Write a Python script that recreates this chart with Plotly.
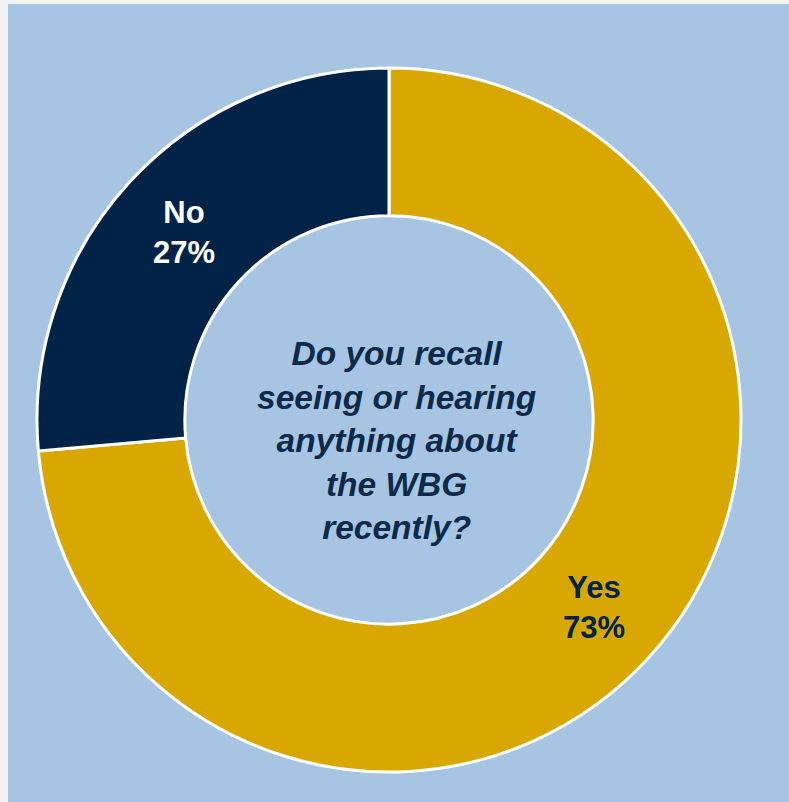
import plotly.graph_objects as go

labels = ["Yes", "No"]
values = [73.6, 26.4]
pct_labels = ["73%", "27%"]
slice_colors = ["#D9A800", "#002347"]
label_colors = ["#002347", "#FFFFFF"]
center_lines = ["Do you recall", "seeing or hearing", "anything about", "the WBG", "recently?"]

W, H = 789, 802
ml, mt = 8, 4
pw, ph = W - ml, H - mt
cx, cy, R = 389, 420, 352

fig = go.Figure(go.Pie(
    labels=labels,
    values=values,
    text=pct_labels,
    sort=False,
    direction="clockwise",
    rotation=0,
    hole=0.58,
    marker=dict(colors=slice_colors, line=dict(color="white", width=3)),
    texttemplate="%{label}<br>%{text}",
    textposition="inside",
    insidetextorientation="horizontal",
    textfont=dict(family="Liberation Sans, Arial, sans-serif", size=31, color=label_colors, weight="bold"),
    showlegend=False,
    hoverinfo="label+text",
    domain=dict(
        x=[(cx - R - ml) / pw, (cx + R - ml) / pw],
        y=[1 - (cy + R - mt) / ph, 1 - (cy - R - mt) / ph],
    ),
))

fig.add_shape(type="rect", xref="paper", yref="paper", x0=0, x1=1, y0=0, y1=1,
              fillcolor="#A7C5E3", line=dict(width=0), layer="below")

fig.add_annotation(
    x=(396 - ml) / pw, y=1 - (440 - mt) / ph, xref="paper", yref="paper",
    text="<br>".join(center_lines), showarrow=False, align="center",
    xanchor="center", yanchor="middle",
    font=dict(family="Liberation Sans, Arial, sans-serif", size=33.5, color="#0A2A4A",
              weight="bold", style="italic"),
)

fig.update_layout(
    width=W, height=H,
    margin=dict(l=ml, r=0, t=mt, b=0),
    paper_bgcolor="#F2F2F2",
)

fig.write_html(
    "out.html",
    config={"displayModeBar": False},
    post_script="document.body.style.margin='0';document.body.style.background='#F2F2F2';",
)
